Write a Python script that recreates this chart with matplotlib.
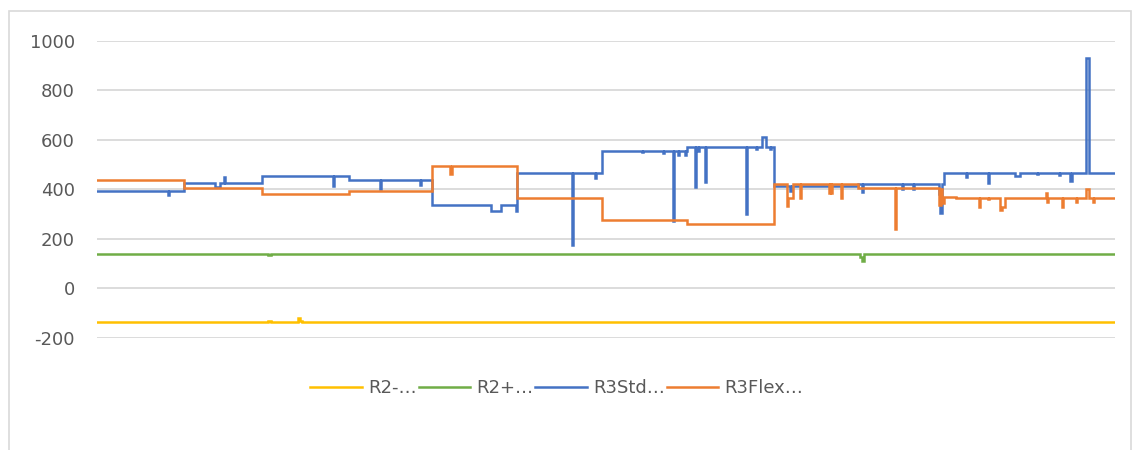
import matplotlib
matplotlib.use("Agg")
import matplotlib.pyplot as plt
from matplotlib.patches import Rectangle

# Series stored as step change points: sample index and value from that index on
X_END = 1018

r2m_x = [0, 171, 174, 201, 203, 205, 324, 325, 847, 848]
r2m_y = [-138, -134, -138, -122, -133, -138, -135, -138, -135, -138]

r2p_x = [0, 171, 174, 763, 765, 767]
r2p_y = [138, 133, 138, 125, 110, 138]

r3std_x = [0, 71, 72, 87, 118, 123, 127, 128, 165, 236, 237, 252, 283, 284, 323, 324,
           335, 394, 404, 419, 420, 475, 476, 498, 499, 505, 545, 546, 566, 567, 576, 577,
           581, 582, 588, 589, 590, 598, 599, 601, 602, 608, 609, 649, 650, 659, 660,
           665, 669, 673, 674, 677, 693, 695, 733, 734, 761, 765, 766, 805, 806, 816, 817,
           842, 843, 845, 847, 869, 870, 891, 892, 918, 923, 940, 941, 962, 963, 973, 975,
           989, 992]
r3std_y = [394, 375, 394, 426, 407, 426, 451, 426, 455, 413, 455, 439, 401, 439, 418, 439,
           337, 311, 337, 313, 466, 175, 466, 447, 466, 554, 549, 554, 545, 554, 272, 554,
           538, 554, 538, 554, 569, 408, 569, 554, 569, 430, 569, 300, 569, 562, 569,
           612, 569, 562, 569, 413, 391, 413, 400, 413, 420, 388, 420, 400, 420, 400, 420,
           380, 305, 420, 465, 451, 465, 427, 465, 455, 465, 460, 465, 457, 465, 434, 465,
           929, 465]

r3flex_x = [0, 87, 165, 252, 264, 335, 353, 355, 420, 505, 590, 677, 690, 691, 696,
            703, 704, 732, 733, 734, 735, 744, 745, 761, 798, 799, 842, 844, 845, 847,
            859, 882, 883, 891, 892, 903, 905, 908, 931, 949, 950, 951, 965, 966, 979,
            980, 989, 992, 996, 997]
r3flex_y = [437, 403, 382, 391, 393, 495, 460, 495, 366, 277, 260, 420, 333, 363, 420,
            363, 420, 383, 420, 383, 420, 363, 420, 406, 238, 406, 336, 400, 345, 370,
            366, 327, 366, 360, 366, 316, 330, 366, 365, 384, 350, 365, 330, 365, 350,
            365, 400, 365, 350, 365]

series_names = ["R2-…", "R2+…", "R3Std…", "R3Flex…"]
series_colors = ["#FFC000", "#70AD47", "#4472C4", "#ED7D31"]

y_ticks = [-200, 0, 200, 400, 600, 800, 1000]

plt.rcParams['font.family'] = ['DejaVu Sans']

fig = plt.figure(figsize=(11.34, 4.5), dpi=100)
W, H = 1134, 450
ax = fig.add_axes([97 / W, 1 - 337.7 / H, (1115 - 97) / W, (337.7 - 40.7) / H])

all_x = [r2m_x, r2p_x, r3std_x, r3flex_x]
all_y = [r2m_y, r2p_y, r3std_y, r3flex_y]
for xs, ys, name, col in zip(all_x, all_y, series_names, series_colors):
    ax.plot(list(xs) + [X_END], list(ys) + [ys[-1]], drawstyle="steps-post",
            color=col, lw=1.8, label=name, solid_joinstyle="miter")

ax.set_xlim(0, X_END)
ax.set_ylim(-200, 1000)
ax.set_yticks(y_ticks)
ax.set_yticklabels([str(v) for v in y_ticks])
ax.set_xticks([])
ax.grid(axis="y", color="#d9d9d9", lw=1.3)
ax.set_axisbelow(True)
for s in ax.spines.values():
    s.set_visible(False)
ax.tick_params(axis="y", length=0, pad=16, labelsize=13, labelcolor="#595959")

leg = fig.legend(loc="center", bbox_to_anchor=(557 / W, 1 - 388 / H), ncol=4,
                 frameon=False, fontsize=13, handlelength=2.85, handletextpad=0.35,
                 columnspacing=0.1, borderaxespad=0)
for t in leg.get_texts():
    t.set_color("#595959")

fig.add_artist(Rectangle((9 / W, -0.1), (1131 - 9) / W, 1.1 - 11 / H,
                         transform=fig.transFigure, fill=False,
                         edgecolor="#d9d9d9", lw=1.2))

fig.savefig("out.png", dpi=100, facecolor="white")
